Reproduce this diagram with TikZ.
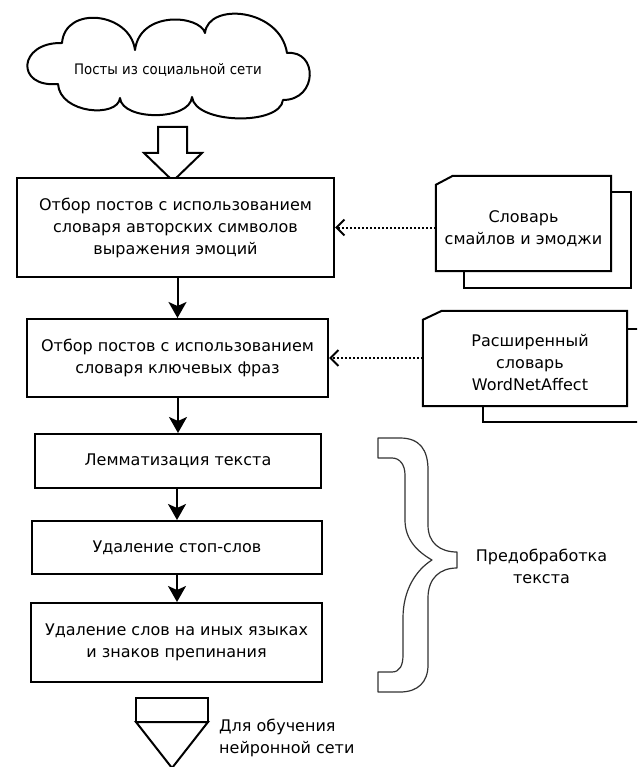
\documentclass[tikz,border=0pt]{standalone}
\usepackage{fontspec}
\setmainfont{DejaVu Sans}
\newfontfamily\condfont[FakeStretch=0.92]{DejaVu Sans}
\usetikzlibrary{arrows.meta}
\begin{document}
\begin{tikzpicture}[x=1pt,y=-1pt,
  box/.style={draw, line width=2pt, fill=white, inner sep=0pt, align=center, font=\fontsize{16}{22}\selectfont},
  txt/.style={inner sep=0pt, align=center, font=\fontsize{16}{22}\selectfont},
  flow/.style={line width=2pt, -{Stealth[length=16pt,width=18pt,inset=4pt]}},
  dotarrow/.style={line width=2pt, dash pattern=on 2pt off 2pt, -{Straight Barb[length=8pt,width=16pt]}},
  shapeline/.style={line width=2pt, line join=miter},
  frame/.style={inner sep=0pt, minimum width=#1},
]
\useasboundingbox (0,0) rectangle (637,767);
\clip (0,0) rectangle (637,767);
\fill[white] (0,0) rectangle (637,767);

% cloud
\draw[shapeline, line join=round, fill=white]
  (62,43) .. controls (65,5) and (130,12) .. (135,50)
  .. controls (140,10) and (200,15) .. (205,33)
  .. controls (208,2) and (280,8) .. (287,53)
  .. controls (318,50) and (318,100) .. (283,100)
  .. controls (280,126) and (195,124) .. (192,97)
  .. controls (190,121) and (122,121) .. (120,98)
  .. controls (118,118) and (60,114) .. (58,84)
  .. controls (15,88) and (18,42) .. cycle;
\node[inner sep=0pt, font=\condfont\fontsize{14.5}{16}\selectfont] (cloud) at (168,70) {Посты из социальной сети};

% hollow block arrow
\draw[shapeline, fill=white] (158,127) -- (187,127) -- (187,153) -- (202,153) -- (173,181) -- (144,153) -- (158,153) -- cycle;

% main boxes
\node[box, minimum width=317pt, minimum height=99pt] (b1) at (175.5,227.5) {Отбор постов с использованием\\словаря авторских символов\\выражения эмоций};
\node[box, minimum width=301pt, minimum height=78pt] (b2) at (177.5,358) {Отбор постов с использованием\\словаря ключевых фраз};
\node[box, minimum width=286pt, minimum height=54pt] (b3) at (178,461) {Лемматизация текста};
\node[box, minimum width=290pt, minimum height=53pt] (b4) at (177,547.5) {Удаление стоп-слов};
\node[box, minimum width=291pt, minimum height=79pt] (b5) at (176.5,642.5) {Удаление слов на иных языках\\и знаков препинания};

\draw[flow] (b2.north |- b1.south) -- (b2.north);
\draw[flow] (b3.north |- b2.south) -- (b3.north);
\draw[flow] (b4.north |- b3.south) -- (b4.north);
\draw[flow] (b4.south) -- (b4.south |- b5.north);

% document 1
\draw[shapeline, fill=white] (464,192) rectangle (631,288);
\node[frame=175pt, minimum height=95pt] (d1) at (523.5,223.5) {};
\draw[shapeline, fill=white] ([yshift=-9pt]d1.north west) -- ([xshift=17pt]d1.north west) -- (d1.north east) -- (d1.south east) -- (d1.south west) -- cycle;
\node[txt] (d1t) at (523.5,229) {Словарь\\смайлов и эмоджи};

% document 2
\draw[shapeline, fill=white] (483,329) rectangle (660,422);
\node[frame=204pt, minimum height=95pt] (d2) at (525,358.5) {};
\draw[shapeline, fill=white] ([yshift=-9pt]d2.north west) -- ([xshift=19pt]d2.north west) -- (d2.north east) -- (d2.south east) -- (d2.south west) -- cycle;
\node[txt] (d2t) at (530,363) {Расширенный\\словарь\\WordNetAffect};

\draw[dotarrow] (b1.east -| d1.west) -- (b1.east);
\draw[dotarrow] (b2.east -| d2.west) -- (b2.east);

% brace
\draw[line width=1.2pt, black!80, line join=round]
  (378,438) -- (400,438) .. controls (420,438) and (428,450) .. (428,470)
  -- (428,525) .. controls (428,543) and (440,552) .. (457,552)
  -- (457,568) .. controls (440,568) and (428,578) .. (428,598)
  -- (428,665) .. controls (428,682) and (418,692) .. (400,692)
  -- (378,692) -- (378,672) -- (392,672) .. controls (400,672) and (403,665) .. (403,655)
  -- (403,618) .. controls (403,590) and (416,570) .. (432,560)
  .. controls (418,552) and (405,540) .. (405,520)
  -- (405,475) .. controls (405,465) and (400,458) .. (392,458)
  -- (378,458) -- cycle;
\node[txt] (pre) at (541.5,566) {Предобработка\\текста};

% storage (output) symbol
\draw[shapeline, fill=white] (136,698) rectangle (208,722);
\draw[shapeline, fill=white] (136,722) -- (208,722) -- (172,768) -- cycle;
\node[txt, align=left, anchor=west] (out) at (219,738) {Для обучения\\нейронной сети};
\end{tikzpicture}
\end{document}
